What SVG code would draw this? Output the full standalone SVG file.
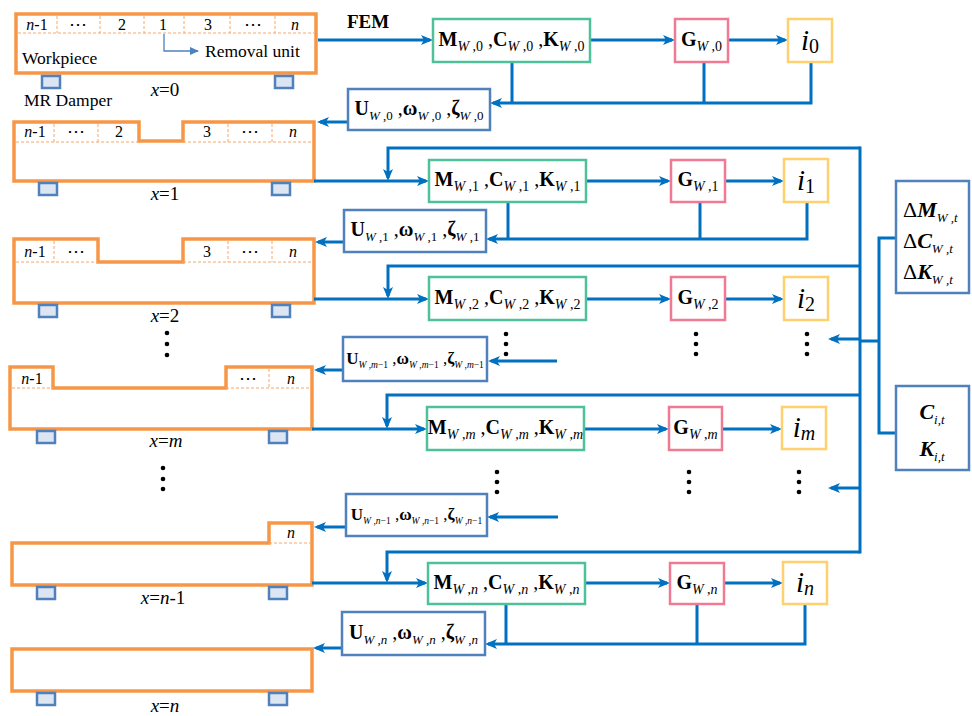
<svg xmlns="http://www.w3.org/2000/svg" width="972" height="716" viewBox="0 0 972 716" font-family="'Liberation Serif', 'Times New Roman', serif">
<defs>
  <marker id="ah" markerUnits="userSpaceOnUse" markerWidth="12" markerHeight="10" refX="9" refY="5" orient="auto">
    <path d="M0,0 L12,5 L0,10 L3,5 z" fill="#0070C0"/>
  </marker>
  <marker id="ah2" markerUnits="userSpaceOnUse" markerWidth="9" markerHeight="8" refX="8" refY="4" orient="auto">
    <path d="M0,0 L9,4 L0,8 z" fill="#4F81BD"/>
  </marker>
  <style>
    text { font-family: 'Liberation Serif', 'Times New Roman', serif; fill: #000; }
    .wp { fill: none; stroke: #F79646; stroke-width: 3.5; }
    .ds { fill: none; stroke: #F8A66A; stroke-width: 1; stroke-dasharray: 3 2; }
    .dmp { fill: #DCE6F2; stroke: #4F81BD; stroke-width: 2.5; }
    .bm { fill: #fff; stroke: #4EC19A; stroke-width: 2.5; }
    .bg { fill: #fff; stroke: #F07A94; stroke-width: 2.5; }
    .bi { fill: #fff; stroke: #FFD06E; stroke-width: 2.5; }
    .bu { fill: #fff; stroke: #4F81BD; stroke-width: 2.5; }
    .ln { fill: none; stroke: #0070C0; stroke-width: 3; }
    .ar { marker-end: url(#ah); }
    .cell { font-size: 16px; }
    .ell { font-family: 'DejaVu Serif', serif; font-size: 18px; }
    .lbl { font-size: 17.5px; }
    .xl { font-size: 19px; }
    .mt { font-size: 20px; }
    .ut { font-size: 20px; }
    .b { font-weight: bold; }
    .it { font-style: italic; }
    .bit { font-weight: bold; font-style: italic; }
    .s { font-size: 14px; font-weight: normal; }
    .s13 { font-size: 13px; font-weight: normal; }
    .dot { fill: #000; }
  </style>
</defs>

<!-- workpiece stages -->
<g id="wp0">
  <path class="wp" d="M16,14 H316 V73 H16 Z"/>
  <path class="ds" d="M18,33 H314 M57,16 V33 M100,16 V33 M144,16 V33 M184,16 V33 M230,16 V33 M275,16 V33"/>
  <g class="cell" text-anchor="middle">
    <text x="37" y="30"><tspan class="it">n</tspan>-1</text>
    <text x="78" y="30" class="ell">⋯</text>
    <text x="122" y="30">2</text>
    <text x="163" y="30">1</text>
    <text x="208" y="30">3</text>
    <text x="253" y="30" class="ell">⋯</text>
    <text x="295" y="30" class="it">n</text>
  </g>
  <path d="M164,34 V51 H198" fill="none" stroke="#4F81BD" stroke-width="1.3" marker-end="url(#ah2)"/>
  <text x="205" y="57" class="lbl">Removal unit</text>
  <text x="22" y="64" class="lbl">Workpiece</text>
  <rect class="dmp" x="42" y="76" width="18" height="12"/>
  <rect class="dmp" x="275" y="76" width="18" height="12"/>
  <text x="165" y="96" class="xl" text-anchor="middle"><tspan class="it">x</tspan>=0</text>
  <text x="24" y="106" class="lbl">MR Damper</text>
</g>

<g id="wp1">
  <path class="wp" d="M14,122 H139 V141 H183 V122 H314 V181 H14 Z"/>
  <path class="ds" d="M16,142 H139 M183,142 H312 M54,124 V142 M98,124 V142 M228,124 V142 M272,124 V142"/>
  <g class="cell" text-anchor="middle">
    <text x="35" y="137"><tspan class="it">n</tspan>-1</text>
    <text x="76" y="137" class="ell">⋯</text>
    <text x="119" y="137">2</text>
    <text x="207" y="137">3</text>
    <text x="250" y="137" class="ell">⋯</text>
    <text x="293" y="137" class="it">n</text>
  </g>
  <rect class="dmp" x="39" y="183" width="18" height="12"/>
  <rect class="dmp" x="272" y="183" width="18" height="12"/>
  <text x="165" y="200" class="xl" text-anchor="middle"><tspan class="it">x</tspan>=1</text>
</g>

<g id="wp2">
  <path class="wp" d="M14,239 H98 V262 H183 V239 H314 V303 H14 Z"/>
  <path class="ds" d="M16,262 H98 M183,262 H312 M54,241 V262 M228,241 V262 M272,241 V262"/>
  <g class="cell" text-anchor="middle">
    <text x="35" y="257"><tspan class="it">n</tspan>-1</text>
    <text x="76" y="257" class="ell">⋯</text>
    <text x="207" y="257">3</text>
    <text x="250" y="257" class="ell">⋯</text>
    <text x="293" y="257" class="it">n</text>
  </g>
  <rect class="dmp" x="39" y="305" width="18" height="12"/>
  <rect class="dmp" x="272" y="305" width="18" height="12"/>
  <text x="165" y="322" class="xl" text-anchor="middle"><tspan class="it">x</tspan>=2</text>
</g>

<g id="wp-gap1">
  <circle class="dot" cx="167" cy="333" r="2.3"/>
  <circle class="dot" cx="167" cy="344" r="2.3"/>
  <circle class="dot" cx="167" cy="355" r="2.3"/>
</g>

<g id="wpm">
  <path class="wp" d="M10,367 H53 V388 H226 V367 H312 V429 H10 Z"/>
  <path class="ds" d="M12,388 H53 M226,388 H310 M269,369 V388"/>
  <g class="cell" text-anchor="middle">
    <text x="32" y="384"><tspan class="it">n</tspan>-1</text>
    <text x="248" y="384" class="ell">⋯</text>
    <text x="291" y="384" class="it">n</text>
  </g>
  <rect class="dmp" x="37" y="431" width="18" height="12"/>
  <rect class="dmp" x="269" y="431" width="18" height="12"/>
  <text x="166" y="447" class="xl" text-anchor="middle"><tspan class="it">x</tspan>=<tspan class="it">m</tspan></text>
</g>

<g id="wp-gap2">
  <circle class="dot" cx="163" cy="468" r="2.3"/>
  <circle class="dot" cx="163" cy="479" r="2.3"/>
  <circle class="dot" cx="163" cy="489" r="2.3"/>
</g>

<g id="wpn1">
  <path class="wp" d="M12,543 H269 V523 H312 V585 H12 Z"/>
  <path class="ds" d="M269,543 H310"/>
  <text x="291" y="538" class="cell it" text-anchor="middle">n</text>
  <rect class="dmp" x="37" y="587" width="18" height="12"/>
  <rect class="dmp" x="269" y="587" width="18" height="12"/>
  <text x="163" y="604" class="xl" text-anchor="middle"><tspan class="it">x</tspan>=<tspan class="it">n</tspan>-1</text>
</g>

<g id="wpn">
  <path class="wp" d="M12,649 H312 V691 H12 Z"/>
  <rect class="dmp" x="37" y="693" width="18" height="12"/>
  <rect class="dmp" x="269" y="693" width="18" height="12"/>
  <text x="165" y="712" class="xl" text-anchor="middle"><tspan class="it">x</tspan>=<tspan class="it">n</tspan></text>
</g>

<text x="347" y="28" font-size="19" font-weight="bold">FEM</text>

<!-- connectors -->
<g id="connectors">
  <path class="ln ar" d="M318,40 H430"/>
  <path class="ln ar" d="M590,40 H672"/>
  <path class="ln ar" d="M728,40 H785"/>
  <path class="ln ar" d="M811,62 V103 H493"/>
  <path class="ln" d="M512,62 V103 M704,62 V103"/>
  <path class="ln ar" d="M348,122 H320"/>

  <path class="ln" d="M860,146.5 V553.5"/>
  <path class="ln ar" d="M860,148 H388 V178"/>
  <path class="ln ar" d="M314,181 H426"/>
  <path class="ln ar" d="M586,181 H668"/>
  <path class="ln ar" d="M725,181 H781"/>
  <path class="ln ar" d="M807,202 V239 H489"/>
  <path class="ln" d="M508,202 V239 M700,202 V239"/>
  <path class="ln ar" d="M344,242 H318"/>

  <path class="ln ar" d="M860,266 H388 V296"/>
  <path class="ln ar" d="M314,299 H426"/>
  <path class="ln ar" d="M586,299 H668"/>
  <path class="ln ar" d="M725,299 H781"/>
  <path class="ln ar" d="M860,339 H831"/>
  <path class="ln ar" d="M557,361 H491"/>
  <path class="ln ar" d="M343,370 H317"/>

  <path class="ln ar" d="M860,395 H387 V426"/>
  <path class="ln ar" d="M312,429 H424"/>
  <path class="ln ar" d="M584,429 H666"/>
  <path class="ln ar" d="M722,429 H779"/>
  <path class="ln ar" d="M860,488 H831"/>
  <path class="ln ar" d="M558,517 H490"/>
  <path class="ln ar" d="M346,527 H317"/>

  <path class="ln ar" d="M860,552 H387 V580"/>
  <path class="ln ar" d="M312,583 H425"/>
  <path class="ln ar" d="M585,583 H667"/>
  <path class="ln ar" d="M724,583 H780"/>
  <path class="ln ar" d="M805,604 V644 H488"/>
  <path class="ln" d="M506,604 V644 M697,604 V644"/>
  <path class="ln ar" d="M342,648 H316"/>

  <path class="ln" d="M860,341 H879 M879,236.5 V434.5 M879,238 H896 M879,433 H896"/>
</g>

<!-- row 0 -->
<g id="m0">
  <rect class="bm" x="433" y="19" width="157" height="43"/>
  <text x="511.5" y="46" class="mt" text-anchor="middle"><tspan class="b">M</tspan><tspan class="s" dy="5"><tspan class="it">W</tspan> ,0</tspan><tspan dy="-5"> ,</tspan><tspan class="b">C</tspan><tspan class="s" dy="5"><tspan class="it">W</tspan> ,0</tspan><tspan dy="-5"> ,</tspan><tspan class="b">K</tspan><tspan class="s" dy="5"><tspan class="it">W</tspan> ,0</tspan></text>
</g>
<g id="g0">
  <rect class="bg" x="675" y="19" width="53" height="43"/>
  <text x="701.5" y="46" class="mt" text-anchor="middle"><tspan class="b">G</tspan><tspan class="s" dy="5"><tspan class="it">W</tspan> ,0</tspan></text>
</g>
<g id="i0">
  <rect class="bi" x="788" y="19" width="44" height="43"/>
  <text x="810" y="50" text-anchor="middle"><tspan class="it" font-size="29">i</tspan><tspan font-size="20" dy="3">0</tspan></text>
</g>
<g id="u0">
  <rect class="bu" x="348" y="89" width="142" height="41"/>
  <text x="419" y="115" class="ut" text-anchor="middle"><tspan class="b">U</tspan><tspan class="s13" dy="5"><tspan class="it">W</tspan> ,0</tspan><tspan dy="-5"> ,</tspan><tspan class="b">ω</tspan><tspan class="s13" dy="5"><tspan class="it">W</tspan> ,0</tspan><tspan dy="-5"> ,</tspan><tspan class="b">ζ</tspan><tspan class="s13" dy="5"><tspan class="it">W</tspan> ,0</tspan></text>
</g>

<!-- row 1 -->
<g id="m1">
  <rect class="bm" x="429" y="160" width="157" height="42"/>
  <text x="507.5" y="186" class="mt" text-anchor="middle"><tspan class="b">M</tspan><tspan class="s" dy="5"><tspan class="it">W</tspan> ,1</tspan><tspan dy="-5"> ,</tspan><tspan class="b">C</tspan><tspan class="s" dy="5"><tspan class="it">W</tspan> ,1</tspan><tspan dy="-5"> ,</tspan><tspan class="b">K</tspan><tspan class="s" dy="5"><tspan class="it">W</tspan> ,1</tspan></text>
</g>
<g id="g1">
  <rect class="bg" x="671" y="160" width="54" height="42"/>
  <text x="698" y="186" class="mt" text-anchor="middle"><tspan class="b">G</tspan><tspan class="s" dy="5"><tspan class="it">W</tspan> ,1</tspan></text>
</g>
<g id="i1">
  <rect class="bi" x="784" y="159" width="44" height="43"/>
  <text x="806" y="190" text-anchor="middle"><tspan class="it" font-size="29">i</tspan><tspan font-size="20" dy="3">1</tspan></text>
</g>
<g id="u1">
  <rect class="bu" x="344" y="210" width="142" height="42"/>
  <text x="415" y="236" class="ut" text-anchor="middle"><tspan class="b">U</tspan><tspan class="s13" dy="5"><tspan class="it">W</tspan> ,1</tspan><tspan dy="-5"> ,</tspan><tspan class="b">ω</tspan><tspan class="s13" dy="5"><tspan class="it">W</tspan> ,1</tspan><tspan dy="-5"> ,</tspan><tspan class="b">ζ</tspan><tspan class="s13" dy="5"><tspan class="it">W</tspan> ,1</tspan></text>
</g>

<!-- row 2 -->
<g id="m2">
  <rect class="bm" x="429" y="277" width="157" height="43"/>
  <text x="507.5" y="304" class="mt" text-anchor="middle"><tspan class="b">M</tspan><tspan class="s" dy="5"><tspan class="it">W</tspan> ,2</tspan><tspan dy="-5"> ,</tspan><tspan class="b">C</tspan><tspan class="s" dy="5"><tspan class="it">W</tspan> ,2</tspan><tspan dy="-5"> ,</tspan><tspan class="b">K</tspan><tspan class="s" dy="5"><tspan class="it">W</tspan> ,2</tspan></text>
</g>
<g id="g2">
  <rect class="bg" x="671" y="277" width="54" height="43"/>
  <text x="698" y="304" class="mt" text-anchor="middle"><tspan class="b">G</tspan><tspan class="s" dy="5"><tspan class="it">W</tspan> ,2</tspan></text>
</g>
<g id="i2">
  <rect class="bi" x="784" y="277" width="44" height="43"/>
  <text x="806" y="308" text-anchor="middle"><tspan class="it" font-size="29">i</tspan><tspan font-size="20" dy="3">2</tspan></text>
</g>
<g id="gap-row2">
  <circle class="dot" cx="506" cy="334" r="2.3"/><circle class="dot" cx="506" cy="344" r="2.3"/><circle class="dot" cx="506" cy="354" r="2.3"/>
  <circle class="dot" cx="696" cy="334" r="2.3"/><circle class="dot" cx="696" cy="344" r="2.3"/><circle class="dot" cx="696" cy="354" r="2.3"/>
  <circle class="dot" cx="807" cy="334" r="2.3"/><circle class="dot" cx="807" cy="344" r="2.3"/><circle class="dot" cx="807" cy="354" r="2.3"/>
</g>
<g id="um1">
  <rect class="bu" x="343" y="337" width="144" height="44"/>
  <text x="415" y="364" font-size="17" text-anchor="middle"><tspan class="b">U</tspan><tspan font-size="9.5" dy="4"><tspan class="it">W</tspan> ,<tspan class="it">m</tspan>−1</tspan><tspan dy="-4"> ,</tspan><tspan class="b">ω</tspan><tspan font-size="9.5" dy="4"><tspan class="it">W</tspan> ,<tspan class="it">m</tspan>−1</tspan><tspan dy="-4"> ,</tspan><tspan class="b">ζ</tspan><tspan font-size="9.5" dy="4"><tspan class="it">W</tspan> ,<tspan class="it">m</tspan>−1</tspan></text>
</g>

<!-- row m -->
<g id="mm">
  <rect class="bm" x="427" y="407" width="157" height="43"/>
  <text x="505.5" y="434" class="mt" text-anchor="middle"><tspan class="b">M</tspan><tspan class="s" dy="5"><tspan class="it">W</tspan> ,<tspan class="it">m</tspan></tspan><tspan dy="-5"> ,</tspan><tspan class="b">C</tspan><tspan class="s" dy="5"><tspan class="it">W</tspan> ,<tspan class="it">m</tspan></tspan><tspan dy="-5"> ,</tspan><tspan class="b">K</tspan><tspan class="s" dy="5"><tspan class="it">W</tspan> ,<tspan class="it">m</tspan></tspan></text>
</g>
<g id="gm">
  <rect class="bg" x="669" y="407" width="53" height="43"/>
  <text x="695.5" y="434" class="mt" text-anchor="middle"><tspan class="b">G</tspan><tspan class="s" dy="5"><tspan class="it">W</tspan> ,<tspan class="it">m</tspan></tspan></text>
</g>
<g id="im">
  <rect class="bi" x="782" y="407" width="44" height="42"/>
  <text x="804" y="437" text-anchor="middle"><tspan class="it" font-size="29">i</tspan><tspan class="it" font-size="20" dy="3">m</tspan></text>
</g>
<g id="gap-rowm">
  <circle class="dot" cx="497" cy="472" r="2.3"/><circle class="dot" cx="497" cy="482" r="2.3"/><circle class="dot" cx="497" cy="492" r="2.3"/>
  <circle class="dot" cx="689" cy="472" r="2.3"/><circle class="dot" cx="689" cy="482" r="2.3"/><circle class="dot" cx="689" cy="492" r="2.3"/>
  <circle class="dot" cx="799" cy="472" r="2.3"/><circle class="dot" cx="799" cy="482" r="2.3"/><circle class="dot" cx="799" cy="492" r="2.3"/>
</g>
<g id="un1">
  <rect class="bu" x="346" y="494" width="141" height="42"/>
  <text x="416.5" y="520" font-size="17" text-anchor="middle"><tspan class="b">U</tspan><tspan font-size="9.5" dy="4"><tspan class="it">W</tspan> ,<tspan class="it">n</tspan>−1</tspan><tspan dy="-4"> ,</tspan><tspan class="b">ω</tspan><tspan font-size="9.5" dy="4"><tspan class="it">W</tspan> ,<tspan class="it">n</tspan>−1</tspan><tspan dy="-4"> ,</tspan><tspan class="b">ζ</tspan><tspan font-size="9.5" dy="4"><tspan class="it">W</tspan> ,<tspan class="it">n</tspan>−1</tspan></text>
</g>

<!-- row n -->
<g id="mn">
  <rect class="bm" x="428" y="563" width="157" height="41"/>
  <text x="506.5" y="589" class="mt" text-anchor="middle"><tspan class="b">M</tspan><tspan class="s" dy="5"><tspan class="it">W</tspan> ,<tspan class="it">n</tspan></tspan><tspan dy="-5"> ,</tspan><tspan class="b">C</tspan><tspan class="s" dy="5"><tspan class="it">W</tspan> ,<tspan class="it">n</tspan></tspan><tspan dy="-5"> ,</tspan><tspan class="b">K</tspan><tspan class="s" dy="5"><tspan class="it">W</tspan> ,<tspan class="it">n</tspan></tspan></text>
</g>
<g id="gn">
  <rect class="bg" x="670" y="563" width="54" height="41"/>
  <text x="697" y="589" class="mt" text-anchor="middle"><tspan class="b">G</tspan><tspan class="s" dy="5"><tspan class="it">W</tspan> ,<tspan class="it">n</tspan></tspan></text>
</g>
<g id="in">
  <rect class="bi" x="783" y="562" width="44" height="42"/>
  <text x="805" y="592" text-anchor="middle"><tspan class="it" font-size="29">i</tspan><tspan class="it" font-size="20" dy="3">n</tspan></text>
</g>
<g id="un">
  <rect class="bu" x="342" y="612" width="143" height="43"/>
  <text x="413.5" y="639" class="ut" text-anchor="middle"><tspan class="b">U</tspan><tspan class="s13" dy="5"><tspan class="it">W</tspan> ,<tspan class="it">n</tspan></tspan><tspan dy="-5"> ,</tspan><tspan class="b">ω</tspan><tspan class="s13" dy="5"><tspan class="it">W</tspan> ,<tspan class="it">n</tspan></tspan><tspan dy="-5"> ,</tspan><tspan class="b">ζ</tspan><tspan class="s13" dy="5"><tspan class="it">W</tspan> ,<tspan class="it">n</tspan></tspan></text>
</g>

<!-- time-varying terms -->
<g id="dmck">
  <rect class="bu" x="896" y="181" width="73" height="112"/>
  <text x="903" y="217" font-size="22">Δ<tspan class="bit">M</tspan><tspan class="it" font-size="13" dy="5">W ,t</tspan></text>
  <text x="903" y="248" font-size="22">Δ<tspan class="bit">C</tspan><tspan class="it" font-size="13" dy="5">W ,t</tspan></text>
  <text x="903" y="279" font-size="22">Δ<tspan class="bit">K</tspan><tspan class="it" font-size="13" dy="5">W ,t</tspan></text>
</g>
<g id="ck">
  <rect class="bu" x="896" y="386" width="73" height="84"/>
  <text x="932" y="419" font-size="22" text-anchor="middle"><tspan class="bit">C</tspan><tspan class="it" font-size="13" dy="5">i,t</tspan></text>
  <text x="932" y="456" font-size="22" text-anchor="middle"><tspan class="bit">K</tspan><tspan class="it" font-size="13" dy="5">i,t</tspan></text>
</g>
</svg>
